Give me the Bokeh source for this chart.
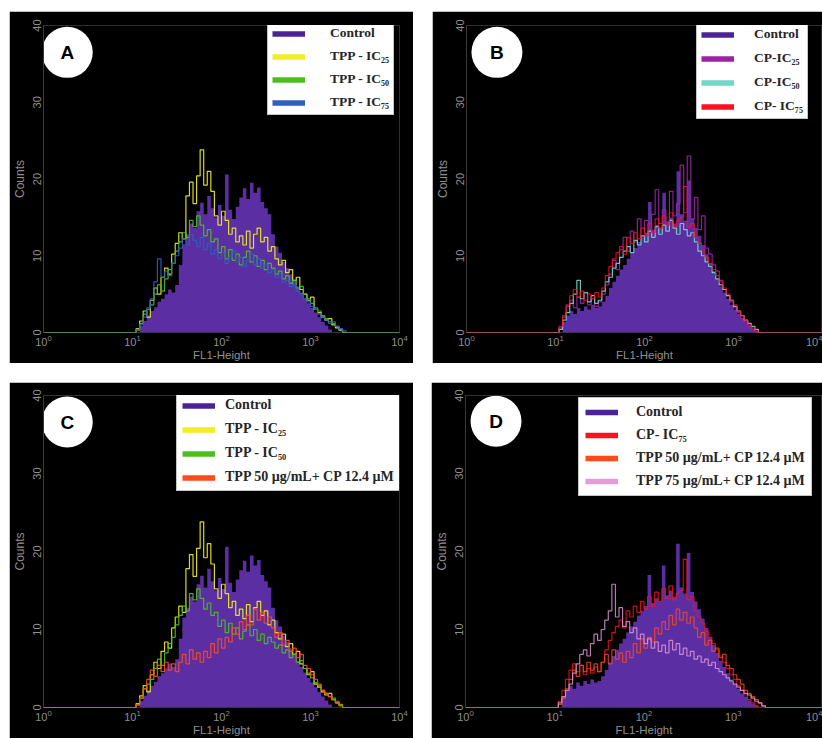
import numpy as np
from bokeh.plotting import figure
from bokeh.models import FixedTicker, Legend, LegendItem, Label, Spacer
from bokeh.layouts import row, column
from bokeh.embed import file_html
from bokeh.resources import INLINE

# ---------------- data ----------------
LOG_MIN, LOG_MAX = 0.0, 4.0          # axis: 10^0 .. 10^4
BIN = 0.04                           # bin width in decades
DATA_START = 1.04                    # log10 of left edge of first listed bin

x_ticks = [1, 10, 100, 1000, 10000]
y_ticks = [0, 10, 20, 30, 40]

control_ac = [0, 0.8, 1.5, 2.2, 2.8, 3.3, 4.0, 4.4, 5.0, 5.6,
              5.2, 6.2, 8.8, 11.5, 12.8, 14.2, 13.6, 15.8, 16.9, 15.4,
              17.8, 16.2, 15.0, 16.6, 15.2, 20.6, 16.0, 14.8, 16.4, 17.6,
              18.8, 17.4, 19.5, 18.2, 18.9, 17.0, 16.2, 15.4, 12.8, 11.2,
              10.4, 9.2, 8.4, 7.6, 6.8, 6.0, 5.2, 4.5, 3.8, 3.2,
              2.6, 2.0, 1.4, 0.9, 0.4, 0, 0, 0, 0, 0]
tpp_ic25 = [0.5, 1.5, 2.8, 2.0, 4.2, 5.8, 5.0, 7.2, 8.4, 7.6,
            10.2, 11.6, 13.0, 12.2, 17.8, 19.6, 16.8, 20.4, 23.8, 19.2,
            21.0, 18.4, 15.2, 14.0, 15.8, 14.6, 12.8, 13.6, 11.8, 12.6,
            11.4, 13.2, 11.0, 12.8, 13.6, 11.8, 12.4, 10.6, 11.2, 9.6,
            8.8, 9.4, 7.8, 8.2, 6.8, 7.2, 5.6, 5.0, 4.2, 4.6,
            3.0, 2.6, 2.0, 1.6, 1.8, 1.0, 0.6, 0.3, 0, 0]
tpp_ic50 = [0.3, 1.2, 2.4, 3.0, 3.6, 5.0, 6.2, 5.4, 7.0, 8.2,
            9.0, 10.6, 11.8, 13.0, 12.4, 14.6, 13.8, 15.2, 14.0, 12.6,
            13.4, 11.8, 12.2, 10.4, 11.2, 9.6, 10.8, 9.4, 10.2, 8.8,
            9.8, 10.6, 9.2, 10.0, 8.6, 9.4, 8.2, 9.0, 8.4, 7.6,
            8.0, 7.0, 7.4, 6.4, 6.8, 5.8, 6.0, 5.0, 4.4, 3.8,
            3.2, 2.8, 2.2, 1.8, 1.4, 1.2, 0.8, 0.4, 0, 0]
tpp_ic75 = [0.4, 1.0, 2.0, 3.2, 4.4, 6.6, 9.6, 7.2, 8.0, 7.4,
            9.0, 10.0, 11.0, 12.2, 11.4, 12.8, 12.0, 11.2, 12.4, 10.8,
            11.6, 10.2, 10.8, 9.6, 10.4, 9.0, 9.8, 10.6, 9.2, 9.8,
            8.6, 9.4, 10.2, 8.8, 9.6, 8.4, 8.8, 7.8, 8.2, 7.2,
            7.6, 6.6, 6.8, 6.0, 6.2, 5.4, 5.0, 4.4, 4.0, 3.4,
            3.0, 2.4, 2.0, 1.6, 1.2, 1.4, 0.8, 0.5, 0.2, 0]
control_bd = [0, 1.4, 2.2, 2.8, 2.4, 3.2, 2.8, 3.4, 3.0, 3.6,
              3.2, 3.4, 4.0, 4.8, 5.8, 6.6, 7.4, 8.2, 8.8, 9.6,
              10.4, 11.0, 11.8, 12.4, 13.0, 17.0, 13.4, 14.0, 13.6, 18.2,
              14.4, 15.0, 14.2, 21.0, 15.4, 14.6, 19.8, 14.8, 13.6, 12.6,
              11.4, 10.2, 9.0, 8.0, 7.0, 6.0, 5.2, 4.4, 3.6, 3.0,
              2.4, 1.8, 1.4, 0.9, 0.5, 0.2, 0, 0, 0, 0]
cp_ic25 = [0.6, 2.0, 3.4, 4.2, 3.2, 4.6, 3.8, 5.2, 3.6, 4.4,
           3.4, 4.0, 5.0, 6.2, 7.6, 9.4, 8.2, 10.8, 12.4, 10.6,
           13.2, 11.8, 14.8, 12.6, 14.6, 12.8, 15.4, 18.6, 14.2, 16.0,
           14.4, 18.4, 15.2, 16.8, 21.8, 15.6, 23.0, 14.8, 17.6, 13.4,
           15.2, 11.0, 10.2, 8.8, 8.0, 6.8, 5.6, 4.8, 4.0, 3.2,
           2.6, 1.8, 1.4, 0.8, 0.4, 0, 0, 0, 0, 0]
cp_ic50 = [0.4, 1.6, 2.6, 3.8, 5.0, 6.8, 4.4, 5.2, 4.0, 4.8,
           3.8, 4.2, 5.4, 6.6, 7.2, 8.4, 9.0, 9.8, 10.6, 11.2,
           10.4, 12.0, 11.4, 12.6, 11.8, 13.2, 12.4, 13.8, 12.8, 14.0,
           13.2, 14.6, 13.6, 12.8, 14.2, 13.4, 12.6, 13.0, 11.8, 10.6,
           10.0, 9.2, 8.6, 7.8, 7.0, 6.2, 5.6, 4.8, 4.2, 3.4,
           2.8, 2.2, 1.6, 1.2, 0.8, 0.4, 0, 0, 0, 0]
cp_ic75 = [0.8, 2.2, 3.6, 4.8, 5.6, 4.6, 5.4, 4.2, 5.0, 4.4,
           5.2, 4.6, 5.8, 7.4, 8.6, 9.6, 10.4, 11.2, 10.2, 12.4,
           11.6, 13.0, 12.2, 13.6, 12.6, 14.2, 13.0, 14.8, 13.6, 15.2,
           14.0, 15.6, 13.8, 14.6, 15.0, 19.0, 13.8, 14.2, 12.4, 11.6,
           10.8, 9.8, 9.0, 8.2, 7.4, 6.6, 5.8, 5.0, 4.2, 3.6,
           2.8, 2.2, 1.6, 1.0, 0.6, 0.2, 0, 0, 0, 0]
tpp50_cp = [0.4, 1.2, 2.4, 3.6, 4.8, 4.0, 5.4, 4.6, 5.8, 4.8,
            5.6, 4.6, 5.8, 6.8, 5.6, 7.4, 6.2, 7.0, 5.8, 7.2,
            6.4, 8.2, 7.0, 8.8, 7.6, 9.0, 8.4, 10.2, 9.4, 11.0,
            10.0, 11.8, 10.6, 12.6, 11.2, 12.2, 10.8, 11.6, 10.2, 9.0,
            9.6, 8.0, 8.6, 7.2, 7.6, 6.4, 6.8, 5.4, 5.0, 4.2,
            3.6, 3.0, 2.2, 1.8, 1.4, 1.0, 0.6, 0.2, 0, 0]
tpp75_cp = [0.6, 1.4, 2.2, 3.0, 4.4, 5.6, 6.8, 7.4, 6.6, 8.2,
            9.4, 8.6, 10.0, 11.2, 12.4, 15.8, 11.6, 12.8, 10.4, 11.0,
            9.6, 10.2, 8.8, 9.4, 8.2, 8.8, 7.6, 8.4, 7.2, 8.0,
            7.0, 8.6, 7.4, 8.2, 6.8, 7.6, 6.6, 7.2, 6.2, 6.6,
            5.8, 6.2, 5.4, 5.8, 5.0, 4.6, 4.2, 3.8, 3.4, 3.0,
            2.6, 2.2, 1.8, 1.6, 1.2, 0.8, 0.6, 0.2, 0, 0]

# ---------------- styles ----------------
C_CONTROL = "#5b2fa3"
C_CONTROL_LEG = "#4b2394"
C_TPP25 = "#f2ee22"
C_TPP50 = "#4cbf1f"
C_TPP75 = "#2f5fbf"
C_CP25 = "#9b23a3"
C_CP50 = "#72d6c9"
C_CP75 = "#ff0f1f"
C_T50CP = "#ff4a1a"
C_T75CP = "#e59ad9"

TICK_COLOR = "#8f8f8f"

NBINS = int(round((LOG_MAX - LOG_MIN) / BIN))
START = int(round((DATA_START - LOG_MIN) / BIN))
EDGES = 10 ** (LOG_MIN + BIN * np.arange(NBINS + 1))


def full_counts(arr):
    out = np.zeros(NBINS)
    a = np.asarray(arr, dtype=float)[: NBINS - START]
    out[START:START + len(a)] = a
    return out


def add_fill(p, arr, color):
    c = full_counts(arr)
    xs = np.repeat(EDGES, 2)[1:-1]
    ys = np.repeat(c, 2)
    p.varea(x=xs, y1=np.zeros_like(ys), y2=ys, fill_color=color, fill_alpha=1.0)


def add_step(p, arr, color, alpha=0.9):
    c = full_counts(arr)
    p.step(x=EDGES, y=np.append(c, c[-1]), mode="after",
           line_color=color, line_width=1.2, line_alpha=alpha)


def legend_proxy(p, arr, color):
    # hidden copy of the series, used only to draw a thick legend swatch
    c = full_counts(arr)
    r = p.line(x=EDGES[:-1], y=c, line_color=color, line_width=5.5)
    r.visible = False
    return r


def make_panel(width, height, bl, br, bt, bb):
    p = figure(width=width, height=height, x_axis_type="log",
               x_range=(10 ** LOG_MIN, 10 ** LOG_MAX), y_range=(0, 40),
               output_backend="svg", toolbar_location=None,
               background_fill_color="black", border_fill_color="black",
               min_border_left=bl, min_border_right=br,
               min_border_top=bt, min_border_bottom=bb,
               outline_line_color="#303030", outline_line_width=1)
    p.grid.visible = False
    p.xaxis.ticker = FixedTicker(ticks=x_ticks)
    p.yaxis.ticker = FixedTicker(ticks=y_ticks)
    for ax in (p.xaxis, p.yaxis):
        ax.major_tick_out = 0
        ax.major_tick_in = 0
        ax.minor_tick_out = 0
        ax.minor_tick_in = 0
        ax.major_tick_line_color = None
        ax.minor_tick_line_color = None
        ax.major_label_text_color = TICK_COLOR
        ax.major_label_text_font = "Liberation Sans"
        ax.major_label_text_font_size = "11px"
        ax.axis_label_text_color = TICK_COLOR
        ax.axis_label_text_font = "Liberation Sans"
        ax.axis_label_text_font_style = "normal"
    p.xaxis.axis_line_color = None
    p.yaxis.axis_line_color = "#3a3a3a"
    p.xaxis.axis_label = "FL1-Height"
    p.yaxis.axis_label = "Counts"
    p.xaxis.axis_label_text_font_size = "11.5px"
    p.yaxis.axis_label_text_font_size = "12px"
    p.xaxis.major_label_standoff = 2
    p.xaxis.axis_label_standoff = 0
    p.yaxis.major_label_standoff = 3
    p.yaxis.axis_label_standoff = 3
    p.yaxis.major_label_orientation = "vertical"
    return p


def add_badge(p, letter, logx, y):
    p.scatter(x=[10 ** logx], y=[y], size=51, marker="circle",
              fill_color="white", line_color=None)
    p.add_layout(Label(x=10 ** logx, y=y, text=letter, text_align="center",
                       text_baseline="middle", text_font="Liberation Sans",
                       text_font_style="bold", text_font_size="19px",
                       text_color="black"))


def add_legend(p, entries, loc, font_size, standoff, padding, spacing, gh):
    items = []
    for label, arr, color in entries:
        r = legend_proxy(p, arr, color)
        items.append(LegendItem(label=label, renderers=[r]))
    lg = Legend(items=items, location=loc, margin=0, padding=padding,
                spacing=spacing, glyph_width=33, glyph_height=gh,
                label_height=gh, label_standoff=standoff,
                label_text_font="Liberation Serif", label_text_font_style="bold",
                label_text_font_size=font_size, label_text_color="#262626",
                background_fill_color="white", background_fill_alpha=1.0,
                border_line_color="#8a8a8a", border_line_width=1,
                inactive_fill_alpha=0.0)
    p.add_layout(lg)


# ---------------- panel A ----------------
pA = make_panel(404, 352, 30, 14, 14, 30)
add_fill(pA, control_ac, C_CONTROL)
add_step(pA, tpp_ic25, C_TPP25)
add_step(pA, tpp_ic50, C_TPP50)
add_step(pA, tpp_ic75, C_TPP75)
add_badge(pA, "A", 0.267, 36.5)
add_legend(pA, [("Control", control_ac, C_CONTROL_LEG),
                ("TPP - IC\u2082\u2085", tpp_ic25, C_TPP25),
                ("TPP - IC\u2085\u2080", tpp_ic50, C_TPP50),
                ("TPP - IC\u2087\u2085", tpp_ic75, C_TPP75)],
           (224, 217), "13.5px", 25, 4, 7, 15)

# ---------------- panel B ----------------
pB = make_panel(390, 352, 27, 0, 14, 30)
add_fill(pB, control_bd, C_CONTROL)
add_step(pB, cp_ic25, C_CP25)
add_step(pB, cp_ic50, C_CP50)
add_step(pB, cp_ic75, C_CP75, alpha=0.8)
add_badge(pB, "B", 0.342, 36.5)
add_legend(pB, [("Control", control_bd, C_CONTROL_LEG),
                ("CP-IC\u2082\u2085", cp_ic25, C_CP25),
                ("CP-IC\u2085\u2080", cp_ic50, C_CP50),
                ("CP- IC\u2087\u2085", cp_ic75, C_CP75)],
           (230, 213), "13.5px", 20, 4, 8, 15)

# ---------------- panel C ----------------
pC = make_panel(404, 356, 30, 14, 12, 27)
add_fill(pC, control_ac, C_CONTROL)
add_step(pC, tpp_ic25, C_TPP25)
add_step(pC, tpp_ic50, C_TPP50)
add_step(pC, tpp50_cp, C_T50CP)
add_badge(pC, "C", 0.267, 36.6)
add_legend(pC, [("Control", control_ac, C_CONTROL_LEG),
                ("TPP - IC\u2082\u2085", tpp_ic25, C_TPP25),
                ("TPP - IC\u2085\u2080", tpp_ic50, C_TPP50),
                ("TPP 50 \u00b5g/mL+ CP 12.4 \u00b5M", tpp50_cp, C_T50CP)],
           (133, 216), "14px", 10, 5, 8, 15)

# ---------------- panel D ----------------
pD = make_panel(391, 356, 28, 0, 13, 27)
add_fill(pD, control_bd, C_CONTROL)
add_step(pD, cp_ic75, C_CP75, alpha=0.8)
add_step(pD, tpp50_cp, C_T50CP, alpha=0.8)
add_step(pD, tpp75_cp, C_T75CP, alpha=0.8)
add_badge(pD, "D", 0.342, 36.7)
add_legend(pD, [("Control", control_bd, C_CONTROL_LEG),
                ("CP- IC\u2087\u2085", cp_ic75, C_CP75),
                ("TPP 50 \u00b5g/mL+ CP 12.4 \u00b5M", tpp50_cp, C_T50CP),
                ("TPP 75 \u00b5g/mL+ CP 12.4 \u00b5M", tpp75_cp, C_T75CP)],
           (113, 211), "14px", 18, 6, 7, 16)

layout = column(
    Spacer(width=822, height=11),
    row(Spacer(width=9, height=352), pA, Spacer(width=19, height=352), pB),
    Spacer(width=822, height=19),
    row(Spacer(width=9, height=357), pC, Spacer(width=18, height=357), pD),
)

open("out.html", "w").write(file_html(layout, INLINE))
